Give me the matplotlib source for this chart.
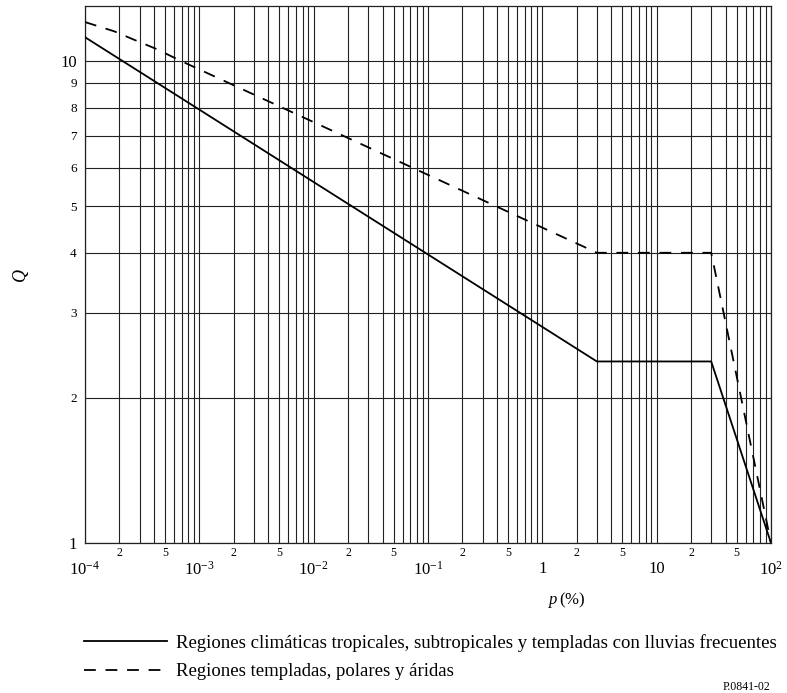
import numpy as np
import matplotlib
matplotlib.use('Agg')
import matplotlib.pyplot as plt

# fonts: Times-like serif for everything, math text too
plt.rcParams['font.family'] = ['Liberation Serif', 'DejaVu Serif']
plt.rcParams['mathtext.fontset'] = 'custom'
plt.rcParams['mathtext.rm'] = 'Liberation Serif'
plt.rcParams['mathtext.it'] = 'Liberation Serif:italic'
plt.rcParams['lines.scale_dashes'] = False

# data: Q against p (%)
p_tropical = [1e-4, 3, 30, 100]
q_tropical = [11.2, 2.38, 2.38, 1.0]

p_temperate = [1e-4, 1.8e-4, 2.7e-4, 4.2e-4, 6.9e-4, 3, 30, 100]
q_temperate = [12.04, 11.52, 11.06, 10.59, 10.0, 4.0, 4.0, 1.0]

label_tropical = 'Regiones climáticas tropicales, subtropicales y templadas con lluvias frecuentes'
label_temperate = 'Regiones templadas, polares y áridas'

x_major = [1e-4, 1e-3, 1e-2, 1e-1, 1, 10, 100]
x_major_labels = [r'$10^{-4}$', r'$10^{-3}$', r'$10^{-2}$', r'$10^{-1}$', '1', '10', r'$10^{2}$']
y_major = [1, 10]
y_minor = [2, 3, 4, 5, 6, 7, 8, 9]

fig = plt.figure(figsize=(7.87, 6.93), dpi=100)
ax = fig.add_axes([85/787, 150/693, 686/787, 537/693])

line1, = ax.plot(p_tropical, q_tropical, color='black', lw=1.3,
                 label=label_tropical, zorder=3)
line2, = ax.plot(p_temperate, q_temperate, color='black', lw=1.3,
                 dashes=(8.5, 7), label=label_temperate, zorder=3)

ax.set_xscale('log')
ax.set_yscale('log')
ax.set_xlim(1e-4, 100)
ax.set_ylim(1, 13)

# x ticks: decades big, 2 and 5 small
x_minor = []
x_minor_labels = []
for dec in x_major[:-1]:
    for m in range(2, 10):
        x_minor.append(m * dec)
        x_minor_labels.append(str(m) if m in (2, 5) else '')
ax.set_xticks(x_major, labels=x_major_labels)
ax.set_xticks(x_minor, labels=x_minor_labels, minor=True)
ax.set_yticks(y_major, labels=[str(v) for v in y_major])
ax.set_yticks(y_minor, labels=[str(v) for v in y_minor], minor=True)

ax.tick_params(axis='x', which='major', length=0, pad=13, labelsize=12)
ax.tick_params(axis='x', which='minor', length=0, pad=3, labelsize=8.5)
ax.tick_params(axis='y', which='major', length=0, pad=6, labelsize=12)
ax.tick_params(axis='y', which='minor', length=0, pad=6, labelsize=9.5)

ax.grid(True, which='both', color='#222222', lw=0.8)
for s in ax.spines.values():
    s.set_color('#222222')
    s.set_linewidth(0.9)

ax.set_ylabel('Q', fontstyle='italic', fontsize=13, labelpad=22)
fig.text(567/787, 1 - 600/693, r'$\mathit{p}\,$(%)', fontsize=12,
         ha='center', va='center')

# legend below the chart, lined up as in the original
fig.legend(handles=[line1, line2], loc='upper left',
           bbox_to_anchor=(84/787, 1 - 634/693), frameon=False,
           fontsize=13.5, handlelength=4.4, handletextpad=0.5,
           labelspacing=0.6, borderaxespad=0, borderpad=0)

fig.text(770/787, 1 - 687/693, 'P.0841-02', fontsize=8.5, ha='right', va='center')

fig.savefig('out.png', dpi=100)
